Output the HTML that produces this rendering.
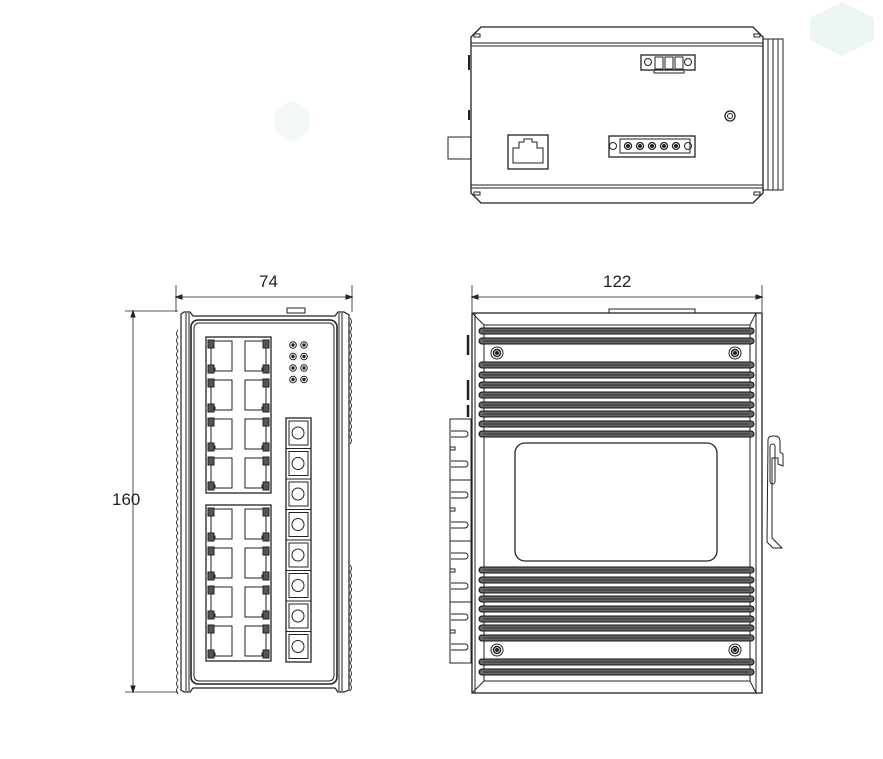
<!DOCTYPE html>
<html><head><meta charset="utf-8"><style>
html,body{margin:0;padding:0;background:#fff;width:883px;height:759px;overflow:hidden}
svg{display:block}
text{font-family:"Liberation Sans",sans-serif;font-size:17px;fill:#222;stroke:none}
</style></head><body>
<svg id="s" width="883" height="759" viewBox="0 0 883 759" xmlns="http://www.w3.org/2000/svg" fill="none" stroke="#222" stroke-width="1">
<polygon points="810,18 842,2 874,18 874,40 842,56 810,40" fill="#eef5f5" stroke="none"/>
<polygon points="275,110 292,100 309,110 309,132 292,142 275,132" fill="#f3f8f8" stroke="none"/>
<!-- TOP VIEW -->
<path d="M481,27 L753,27 L763,37 L763,193 L753,203 L481,203 L471,193 L471,37 Z" stroke-width="1.3"/>
<line x1="471" y1="43" x2="763" y2="43"/><line x1="471" y1="46" x2="763" y2="46"/>
<line x1="471" y1="185" x2="763" y2="185"/><line x1="471" y1="188" x2="763" y2="188"/>
<rect x="474" y="34" width="6" height="3"/><rect x="754" y="34" width="6" height="3"/>
<rect x="474" y="192" width="6" height="3"/><rect x="754" y="192" width="6" height="3"/>
<rect x="763" y="39" width="20" height="151"/>
<line x1="768" y1="39" x2="768" y2="190"/><line x1="773" y1="39" x2="773" y2="190"/><line x1="778" y1="39" x2="778" y2="190"/>
<rect x="448" y="137" width="23" height="22"/>
<line x1="469" y1="55" x2="469" y2="70" stroke-width="2"/><line x1="469" y1="110" x2="469" y2="120" stroke-width="2"/>
<rect x="508" y="135" width="40" height="34" stroke-width="1.3"/>
<path d="M513,163 L513,148 L519,148 L519,142 L524,142 L524,139 L532,139 L532,142 L537,142 L537,148 L543,148 L543,163 Z"/>
<rect x="609" y="136" width="86" height="21" stroke-width="1.3"/>
<rect x="620" y="139" width="70" height="14"/>
<circle cx="613" cy="146" r="3.5"/><circle cx="688" cy="146" r="3.5"/>
<rect x="641" y="55" width="54" height="15" stroke-width="1.3"/>
<circle cx="648" cy="62" r="3.5"/><circle cx="688" cy="62" r="3.5"/>
<path d="M655,57 h8 v12 h-8 z M665,57 h8 v12 h-8 z M675,57 h8 v12 h-8 z"/>
<path d="M654,70 v3 h30 v-3"/>
<circle cx="730" cy="116" r="5" stroke-width="1.3"/><circle cx="730" cy="116" r="2.5"/>
<!-- FRONT VIEW dims -->
<text x="259" y="287">74</text>
<line x1="176" y1="297" x2="352" y2="297" stroke-width="0.8"/>
<line x1="176" y1="285" x2="176" y2="312" stroke-width="0.8"/><line x1="352" y1="285" x2="352" y2="312" stroke-width="0.8"/>
<path d="M176,297 l6,-2 v4 z M352,297 l-6,-2 v4 z" fill="#222"/>
<text x="112" y="505">160</text>
<line x1="133" y1="311" x2="133" y2="692" stroke-width="0.8"/>
<line x1="125" y1="311" x2="178" y2="311" stroke-width="0.8"/><line x1="125" y1="692" x2="178" y2="692" stroke-width="0.8"/>
<path d="M133,311 l-2,6 h4 z M133,692 l-2,-6 h4 z" fill="#222"/>
<path d="M181,314 L184,312 L190,312 L193,316 L335,316 L338,312 L344,312 L349,315 L349,690 L344,692 L338,692 L335,688 L193,688 L190,692 L184,692 L181,690 Z" stroke-width="1.2"/>
<line x1="186" y1="313" x2="186" y2="691"/><line x1="189" y1="313" x2="189" y2="691"/>
<line x1="339" y1="313" x2="339" y2="691"/><line x1="342" y1="313" x2="342" y2="691"/>
<rect x="287" y="308" width="18" height="5"/>
<rect x="191" y="320" width="146" height="364" rx="7" stroke-width="1.6"/>
<rect x="194" y="323" width="140" height="358" rx="5"/>
<!-- SIDE VIEW -->
<text x="603" y="287">122</text>
<line x1="472" y1="297" x2="762" y2="297" stroke-width="0.8"/>
<line x1="472" y1="285" x2="472" y2="312" stroke-width="0.8"/><line x1="762" y1="285" x2="762" y2="312" stroke-width="0.8"/>
<path d="M472,297 l6,-2 v4 z M762,297 l-6,-2 v4 z" fill="#222"/>
<rect x="609" y="309" width="86" height="4"/>
<rect x="472" y="313" width="290" height="380" stroke-width="1.3"/>
<line x1="756" y1="313" x2="756" y2="693"/>
<path d="M484,325 L750,325 L750,681 L484,681 Z"/>
<line x1="472" y1="313" x2="484" y2="325"/><line x1="756" y1="313" x2="750" y2="325"/>
<line x1="472" y1="693" x2="484" y2="681"/><line x1="756" y1="693" x2="750" y2="681"/>
<line x1="475" y1="313" x2="475" y2="693"/>
<rect x="515" y="443" width="202" height="118" rx="10" stroke-width="1.3"/>
<path d="M468,335 v20 M468,380 v20 M468,405 v12" stroke-width="2.5"/>
<path d="M768,440 q0,-4 5,-4 h2 q5,0 5,6 v10 l3,2 v12 l-5,-2 v-6 h-6 v80 l10,10 h-9 l-6,-6 Z"/>
<rect x="770" y="444" width="5" height="40" rx="2.5"/>
<g id="gen"></g>
</svg>
<script>
var NS="http://www.w3.org/2000/svg";
function el(p,t,a){var e=document.createElementNS(NS,t);for(var k in a)e.setAttribute(k,a[k]);p.appendChild(e);return e}
var g=document.getElementById('gen');
for(var i=0;i<5;i++){el(g,'circle',{cx:628+i*12,cy:146,r:3.5,'stroke-width':1.3});el(g,'circle',{cx:628+i*12,cy:146,r:1.5,fill:'#222'});}
function wave(x,y1,y2,dir){var d="M"+x+","+y1;for(var y=y1;y<y2;y+=7){d+=" q"+(dir*3)+",3.5 0,7";}el(g,'path',{d:d,'stroke-width':0.9});}
wave(178,330,690,-1);wave(350,318,440,1);wave(350,565,690,1);
function grp(y0){el(g,'rect',{x:206,y:y0,width:65,height:156,'stroke-width':1.3});
for(var r=0;r<4;r++){var y=y0+r*39;
 el(g,'path',{d:"M211,"+(y+4)+" h21 v30 h-17 v-3 h-4 z"});
 el(g,'path',{d:"M266,"+(y+4)+" h-21 v30 h17 v-3 h4 z"});
 [[208,y+3],[208,y+28],[263,y+3],[263,y+28]].forEach(function(p){el(g,'rect',{x:p[0],y:p[1],width:6,height:8,fill:'#555','stroke-width':1})});}}
grp(337);grp(505);
for(var r=0;r<4;r++)for(var c=0;c<2;c++){el(g,'circle',{cx:293+c*11,cy:345+r*11.5,r:3.3});el(g,'circle',{cx:293+c*11,cy:345+r*11.5,r:1.2,fill:'#222'});}
el(g,'rect',{x:286,y:418,width:25,height:244,'stroke-width':1.3});
for(var i=0;i<8;i++){var y=418+i*30.5;el(g,'line',{x1:286,y1:y,x2:311,y2:y});el(g,'rect',{x:289,y:y+3,width:19,height:24});el(g,'circle',{cx:298,cy:y+15,r:6});}
var fins=[331,341,365,375,385,395,405,414,424,434,570,580,590,599,609,619,628,638,662,672];
fins.forEach(function(y){el(g,'rect',{x:479,y:y-3,width:275,height:6,rx:3,fill:'#666','stroke':'#111','stroke-width':1});el(g,'line',{x1:483,y1:y,x2:750,y2:y,stroke:'#222','stroke-width':0.8});});
[[497,353],[735,353],[497,650],[735,650]].forEach(function(p){el(g,'circle',{cx:p[0],cy:p[1],r:6});el(g,'circle',{cx:p[0],cy:p[1],r:3.5,'stroke-width':1.5});el(g,'circle',{cx:p[0],cy:p[1],r:1.5,fill:'#222'});});
for(var b=0;b<4;b++){var y=419+b*61;el(g,'rect',{x:450,y:y,width:21,height:61});
 [y+15,y+45].forEach(function(yy){el(g,'path',{d:"M451,"+(yy-3)+" h14 a3,3 0 0 1 0,6 h-14"});});
 el(g,'path',{d:"M450,"+(y+28)+" h5 v3 h-5"});}
</script>
</body></html>
